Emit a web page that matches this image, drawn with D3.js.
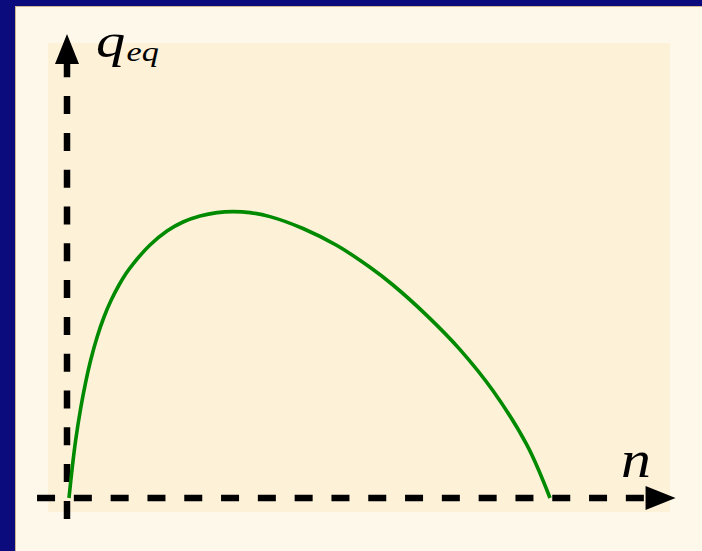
<!DOCTYPE html>
<html>
<head>
<meta charset="utf-8">
<script src="https://cdn.jsdelivr.net/npm/d3@7"></script>
<style>
  html, body { margin: 0; padding: 0; background: #0b0b7d; }
  svg { display: block; }
</style>
</head>
<body>
<svg id="chart" width="702" height="551"></svg>
<script>
// Equilibrium value q_eq as a function of n (normalised so the maximum is 1)
const nValues = [0.0041, 0.0110, 0.0180, 0.0284, 0.0387, 0.0491, 0.0627, 0.0766, 0.0911, 0.1077, 0.1222, 0.1366, 0.1718, 0.2070, 0.2402, 0.2754, 0.3106, 0.3437, 0.3789, 0.4203, 0.4886, 0.5590, 0.6273, 0.6749, 0.7453, 0.8137, 0.8820, 0.9524, 1.0];
const qValues = [0, 0.1082, 0.2025, 0.3142, 0.4050, 0.4818, 0.5639, 0.6320, 0.6896, 0.7437, 0.7839, 0.8170, 0.8834, 0.9323, 0.9637, 0.9846, 0.9965, 1.0, 0.9965, 0.9825, 0.9410, 0.8816, 0.8055, 0.7437, 0.6369, 0.5182, 0.3743, 0.1844, 0];

// Extent of the two axes in data units
const nAxisExtent = [-0.062, 1.26];
const qAxisExtent = [-0.073, 1.62];
const axisLabels = { x: "n", y: "q", ySub: "eq" };

const svg = d3.select("#chart");
const W = 702, H = 551;

// Frame: dark blue border, cream panel, slightly darker plot region
svg.append("rect").attr("width", W).attr("height", H).attr("fill", "#0b0b7d");
svg.append("rect").attr("x", 15.5).attr("y", 6.5).attr("width", W).attr("height", H)
  .attr("fill", "#fef8ea").attr("stroke", "#cdb893").attr("stroke-width", 1);
svg.append("rect").attr("x", 48).attr("y", 43).attr("width", 622).attr("height", 469)
  .attr("fill", "#fdf1d8");

const x = d3.scaleLinear().domain([0, 1]).range([67, 550]);
const y = d3.scaleLinear().domain([0, 1]).range([498, 211.6]);

const arrowLen = 30, arrowHalf = 12;
const dash = "18,18.8";

// Horizontal axis (n)
const xTip = x(nAxisExtent[1]);
svg.append("line")
  .attr("x1", x(nAxisExtent[0])).attr("y1", y(0))
  .attr("x2", xTip - arrowLen).attr("y2", y(0))
  .attr("stroke", "#000").attr("stroke-width", 6.5).attr("stroke-dasharray", dash);
svg.append("path")
  .attr("d", d3.line()([[xTip, y(0)], [xTip - arrowLen, y(0) - arrowHalf], [xTip - arrowLen, y(0) + arrowHalf]]) + "Z")
  .attr("fill", "#000");

// Vertical axis (q_eq)
const yTip = y(qAxisExtent[1]);
svg.append("line")
  .attr("x1", x(0)).attr("y1", y(qAxisExtent[0]))
  .attr("x2", x(0)).attr("y2", yTip + arrowLen)
  .attr("stroke", "#000").attr("stroke-width", 6.5).attr("stroke-dasharray", dash);
svg.append("path")
  .attr("d", d3.line()([[x(0), yTip], [x(0) - arrowHalf, yTip + arrowLen], [x(0) + arrowHalf, yTip + arrowLen]]) + "Z")
  .attr("fill", "#000");

// Curve
const pts = nValues.map((n, i) => [n, qValues[i]]);
svg.append("path")
  .datum(pts)
  .attr("d", d3.line().x(d => x(d[0])).y(d => y(d[1])).curve(d3.curveCatmullRom.alpha(0.5)))
  .attr("fill", "none").attr("stroke", "#008a00").attr("stroke-width", 3.6)
  .attr("stroke-linejoin", "round");

// Axis labels (italic serif, widened a little)
const labelFont = "'Liberation Serif', 'DejaVu Serif', serif";
const yl = svg.append("text")
  .attr("transform", "translate(96,57) scale(1.22,1)")
  .attr("font-family", labelFont).attr("font-style", "italic").attr("font-size", 48)
  .attr("fill", "#000");
yl.append("tspan").text(axisLabels.y);
yl.append("tspan").attr("font-size", 28).attr("dx", 1).attr("dy", 4).text(axisLabels.ySub);

svg.append("text")
  .attr("transform", "translate(621,477) scale(1.15,1)")
  .attr("font-family", labelFont).attr("font-style", "italic").attr("font-size", 52)
  .attr("fill", "#000").text(axisLabels.x);
</script>
</body>
</html>
